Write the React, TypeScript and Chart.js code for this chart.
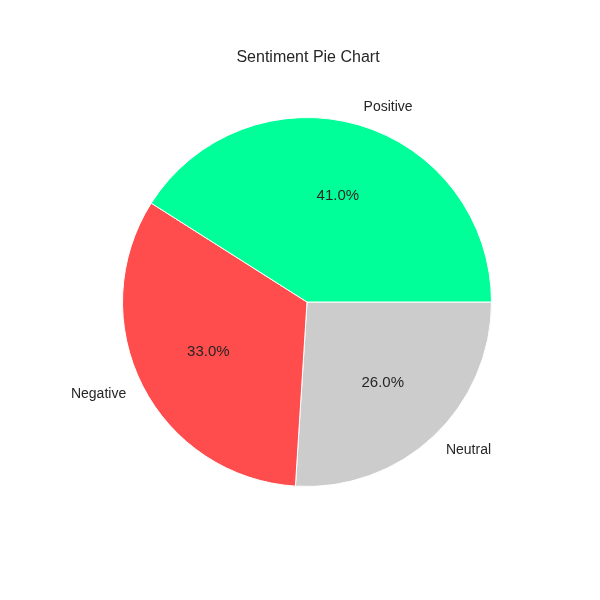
import React, { useEffect, useRef } from 'react';
import Chart from 'chart.js/auto';

// Chart.js draws clockwise; matplotlib counter-clockwise, so order is reversed
const labels = ['Neutral', 'Negative', 'Positive'];
const values = [26.0, 33.0, 41.0];
const colors = ['#cccccc', '#ff4c4c', '#00ff99'];
const title = 'Sentiment Pie Chart';

const FONT = '"Liberation Sans", Arial, sans-serif';

const pieText = {
  id: 'pieText',
  afterDraw(chart: any) {
    const ctx = chart.ctx;
    const meta = chart.getDatasetMeta(0);
    ctx.save();
    ctx.fillStyle = '#262626';
    ctx.font = `16px ${FONT}`;
    ctx.textAlign = 'center';
    ctx.textBaseline = 'middle';
    ctx.fillText(title, chart.width / 2 + 8, 58);
    meta.data.forEach((arc: any, i: number) => {
      const { x, y, startAngle, endAngle, outerRadius } = arc.getProps(
        ['x', 'y', 'startAngle', 'endAngle', 'outerRadius'],
        true
      );
      const mid = (startAngle + endAngle) / 2;
      const c = Math.cos(mid);
      const s = Math.sin(mid);
      ctx.font = `15px ${FONT}`;
      ctx.textAlign = 'center';
      ctx.fillText(values[i].toFixed(1) + '%', x + c * outerRadius * 0.6, y + s * outerRadius * 0.6);
      ctx.font = `14px ${FONT}`;
      ctx.textAlign = c >= 0 ? 'left' : 'right';
      ctx.fillText(labels[i], x + c * outerRadius * 1.1, y + s * outerRadius * 1.1);
    });
    ctx.restore();
  },
};

const App: React.FC = () => {
  const canvasRef = useRef<HTMLCanvasElement>(null);
  const chartRef = useRef<Chart<'pie'> | null>(null);

  useEffect(() => {
    document.body.style.margin = '0';
    const ctx = canvasRef.current?.getContext('2d');
    if (!ctx) return;
    if (chartRef.current) chartRef.current.destroy();
    chartRef.current = new Chart(ctx, {
      type: 'pie',
      data: {
        labels,
        datasets: [
          {
            data: values,
            backgroundColor: colors,
            borderColor: '#ffffff',
            borderWidth: 1,
          },
        ],
      },
      options: {
        responsive: false,
        animation: false,
        rotation: 90,
        layout: { padding: { left: 122, right: 108, top: 117, bottom: 113 } },
        plugins: {
          legend: { display: false },
          title: { display: false },
          tooltip: { enabled: false },
        },
      },
      plugins: [pieText],
    });
    return () => {
      chartRef.current?.destroy();
      chartRef.current = null;
    };
  }, []);

  return <canvas ref={canvasRef} width={600} height={600} />;
};

export default App;
